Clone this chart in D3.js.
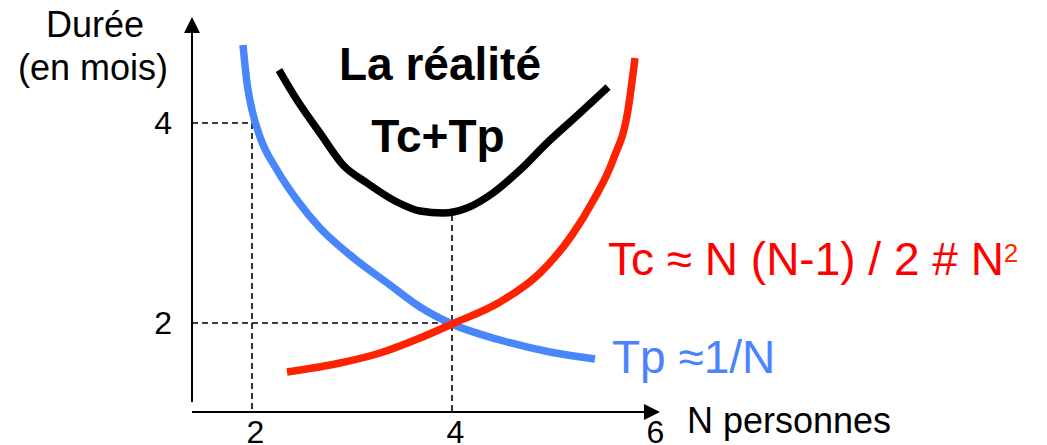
<!DOCTYPE html>
<html><head><meta charset="utf-8">
<script src="https://cdn.jsdelivr.net/npm/d3@7"></script>
<style>body{margin:0;background:#fff}svg{display:block}text{font-family:"Liberation Sans",Arial,sans-serif}</style>
</head><body><svg id="c" width="1047" height="445"></svg>
<script>
// ---- data (N personnes, durée en mois) ----
const tpN = [1.91,1.95,2.00,2.08,2.25,2.45,2.68,2.98,3.38,3.68,4.00,4.48,4.98,5.43];
const tpY = [4.78,4.40,4.13,3.86,3.53,3.23,2.95,2.68,2.38,2.16,1.99,1.83,1.71,1.64];
const tcN = [2.35,2.88,3.28,3.68,4.00,4.48,4.88,5.20,5.41,5.61,5.76,5.83];
const tcY = [1.51,1.60,1.70,1.85,1.99,2.21,2.50,2.88,3.22,3.63,4.13,4.65];
const sumN = [2.27,2.45,2.68,2.91,3.15,3.45,3.68,3.91,4.15,4.41,4.68,4.95,5.28,5.56];
const sumY = [4.53,4.23,3.90,3.58,3.40,3.21,3.12,3.10,3.15,3.30,3.53,3.80,4.10,4.36];
const xTicks = [2,4,6];
const yTicks = [2,4];
const axisMinX = 1.4, axisMaxX = 6.08, axisMinY = 1.11, axisMaxY = 5.06;
const minSum = {x:4.0, y:3.08};

const svg = d3.select("#c");
const x = d3.scaleLinear().domain([0,6]).range([52,652]);
const y = d3.scaleLinear().domain([0,4]).range([523,123]);

// dashed guides
const guides = [
  [[axisMinX,4],[2,4]], [[2,4],[2,axisMinY]],
  [[axisMinX,2],[4,2]], [[minSum.x,minSum.y],[4,axisMinY]]
];
guides.forEach(g=>{
  svg.append("line").attr("x1",x(g[0][0])).attr("y1",y(g[0][1]))
    .attr("x2",x(g[1][0])).attr("y2",y(g[1][1]))
    .attr("stroke","#000").attr("stroke-width",1.6).attr("stroke-dasharray","6,4");
});

// axes lines
svg.append("line").attr("x1",x(axisMinX)).attr("x2",x(axisMinX))
  .attr("y1",y(axisMaxY)+10).attr("y2",y(axisMinY)-10).attr("stroke","#000").attr("stroke-width",2);
svg.append("path").attr("d",`M${x(axisMinX)},${y(axisMaxY)} l-8,16 l16,0 z`).attr("fill","#000");
svg.append("line").attr("x1",x(axisMinX)).attr("x2",x(axisMaxX)-10)
  .attr("y1",y(axisMinY)).attr("y2",y(axisMinY)).attr("stroke","#000").attr("stroke-width",2);
svg.append("path").attr("d",`M${x(axisMaxX)},${y(axisMinY)} l-16,-8 l0,16 z`).attr("fill","#000");

// tick labels
const gx = svg.append("g").attr("transform",`translate(3,${y(axisMinY)})`)
  .call(d3.axisBottom(x).tickValues(xTicks).tickSize(0).tickPadding(8).tickFormat(d3.format("d")));
gx.select(".domain").remove();
gx.selectAll("text").attr("font-size",32).attr("fill","#000").attr("font-family","Liberation Sans, Arial, sans-serif");
const gy = svg.append("g").attr("transform",`translate(${x(axisMinX)-20},0)`)
  .call(d3.axisLeft(y).tickValues(yTicks).tickSize(0).tickPadding(0).tickFormat(d3.format("d")));
gy.select(".domain").remove();
gy.selectAll("text").attr("font-size",32).attr("fill","#000").attr("font-family","Liberation Sans, Arial, sans-serif");

// curves
const line = d3.line().x(d=>x(d[0])).y(d=>y(d[1])).curve(d3.curveMonotoneX);
const series = [
  {n:tpN, v:tpY, c:"#4a86fb"},
  {n:tcN, v:tcY, c:"#ff2200"},
  {n:sumN, v:sumY, c:"#000"}
];
series.forEach(s=>{
  svg.append("path").attr("d", line(s.n.map((n,i)=>[n,s.v[i]])))
    .attr("fill","none").attr("stroke",s.c).attr("stroke-width",7.5);
});

// texts
svg.append("text").attr("x",95).attr("y",37).attr("text-anchor","middle").attr("font-size",36).text("Durée");
svg.append("text").attr("x",93).attr("y",80).attr("text-anchor","middle").attr("font-size",36).text("(en mois)");
svg.append("text").attr("x",687).attr("y",433).attr("font-size",36).text("N personnes");
svg.append("text").attr("x",440).attr("y",80).attr("text-anchor","middle").attr("font-size",46).attr("font-weight","bold").text("La réalité");
svg.append("text").attr("x",438).attr("y",152).attr("text-anchor","middle").attr("font-size",46).attr("font-weight","bold").text("Tc+Tp");
const tc = svg.append("text").attr("x",608).attr("y",275).attr("font-size",46).attr("fill","#ff0000").text("Tc ≈ N (N-1) / 2 # N");
tc.append("tspan").attr("dy",-13).attr("font-size",26).attr("fill","#ff2a00").text("2");
svg.append("text").attr("x",612).attr("y",373).attr("font-size",46).attr("fill","#4a82ff").text("Tp ≈1/N");
</script></body></html>
